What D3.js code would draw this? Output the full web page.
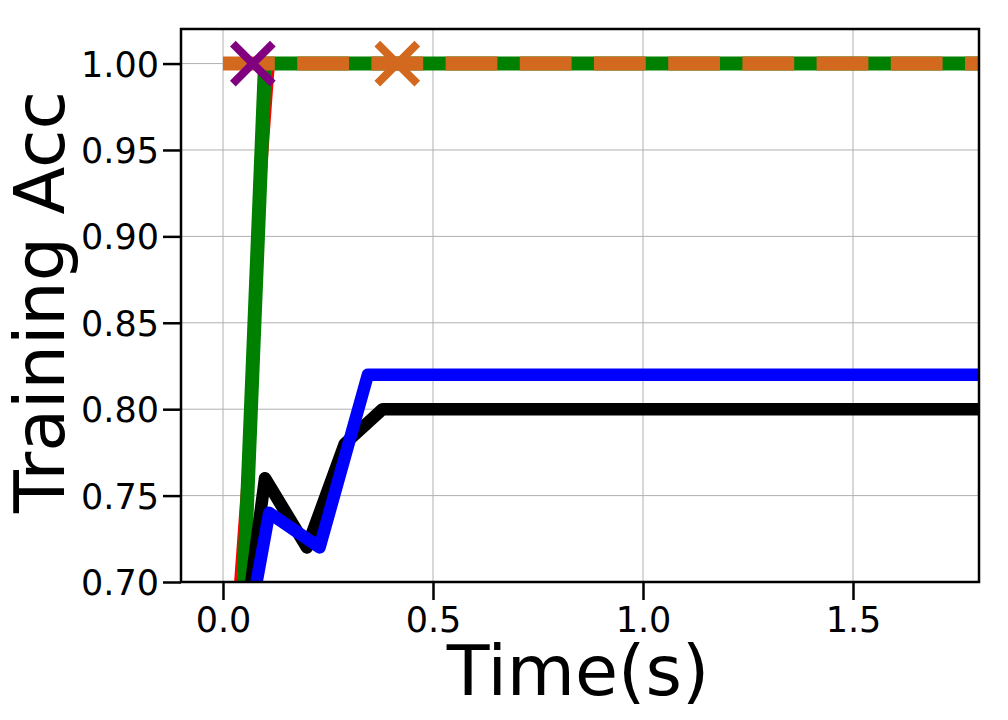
<!DOCTYPE html>
<html>
<head>
<meta charset="utf-8">
<script src="https://cdn.jsdelivr.net/npm/d3@7"></script>
<style>
  html, body { margin: 0; padding: 0; background: #fff; }
  svg { display: block; }
  text { font-family: "DejaVu Sans", sans-serif; fill: #000; }
</style>
</head>
<body>
<svg id="chart" width="1008" height="720"></svg>
<script>
// ---- data ----
const xTicks = [0.0, 0.5, 1.0, 1.5];
const yTicks = [0.70, 0.75, 0.80, 0.85, 0.90, 0.95, 1.00];

const redX   = [0.018, 0.12, 2.0];
const redY   = [0.66, 1.00, 1.00];

const greenX = [0.043, 0.10, 2.0];
const greenY = [0.66, 1.00, 1.00];

const orangeX = [0.0, 2.0];
const orangeY = [1.00, 1.00];

const blackX = [0.04, 0.10, 0.20, 0.29, 0.38, 2.0];
const blackY = [0.65, 0.76, 0.72, 0.78, 0.80, 0.80];

const blueX  = [0.05, 0.11, 0.23, 0.345, 2.0];
const blueY  = [0.66, 0.74, 0.72, 0.82, 0.82];

const purpleMarkX = [0.071];
const purpleMarkY = [1.00];
const orangeMarkX = [0.415];
const orangeMarkY = [1.00];

// ---- layout ----
const W = 1008, H = 720;
const margin = { left: 181, top: 29, right: 1008 - 979, bottom: 720 - 582 };
const iw = W - margin.left - margin.right;
const ih = H - margin.top - margin.bottom;

const svg = d3.select("#chart");
const x = d3.scaleLinear().domain([-0.1, 1.8]).range([0, iw]);
const y = d3.scaleLinear().domain([0.70, 1.02]).range([ih, 0]);

const g = svg.append("g").attr("transform", `translate(${margin.left},${margin.top})`);

g.append("defs").append("clipPath").attr("id", "clip")
  .append("rect").attr("x", 0).attr("y", 0).attr("width", iw).attr("height", ih);

// grid
const grid = g.append("g");
grid.selectAll("line.vx").data(xTicks).enter().append("line")
  .attr("x1", d => x(d)).attr("x2", d => x(d)).attr("y1", 0).attr("y2", ih)
  .attr("stroke", "#b0b0b0").attr("stroke-width", 1);
grid.selectAll("line.hy").data(yTicks).enter().append("line")
  .attr("y1", d => y(d)).attr("y2", d => y(d)).attr("x1", 0).attr("x2", iw)
  .attr("stroke", "#b0b0b0").attr("stroke-width", 1);

const zip = (xs, ys) => xs.map((v, i) => [v, ys[i]]);
const line = d3.line().x(d => x(d[0])).y(d => y(d[1]));

const plot = g.append("g").attr("clip-path", "url(#clip)");

function marker(xs, ys, color) {
  const pts = zip(xs, ys);
  const d = 20;
  const m = g.append("g");
  pts.forEach(p => {
    const cx = x(p[0]), cy = y(p[1]);
    m.append("path")
      .attr("d", `M${cx - d},${cy - d}L${cx + d},${cy + d}M${cx - d},${cy + d}L${cx + d},${cy - d}`)
      .attr("stroke", color).attr("stroke-width", 8).attr("stroke-linecap", "butt")
      .attr("fill", "none");
  });
}

marker(purpleMarkX, purpleMarkY, "#800080");

plot.append("path").datum(zip(redX, redY)).attr("d", line)
  .attr("fill", "none").attr("stroke", "#ff0000").attr("stroke-width", 3)
  .attr("stroke-linejoin", "round");

plot.append("path").datum(zip(greenX, greenY)).attr("d", line)
  .attr("fill", "none").attr("stroke", "#008000").attr("stroke-width", 14)
  .attr("stroke-linejoin", "round");

plot.append("path").datum(zip(orangeX, orangeY)).attr("d", line)
  .attr("fill", "none").attr("stroke", "#d2691e").attr("stroke-width", 14)
  .attr("stroke-dasharray", "51.8,22.4").attr("stroke-linecap", "butt");

plot.append("path").datum(zip(blackX, blackY)).attr("d", line)
  .attr("fill", "none").attr("stroke", "#000000").attr("stroke-width", 12.5)
  .attr("stroke-linejoin", "round");

plot.append("path").datum(zip(blueX, blueY)).attr("d", line)
  .attr("fill", "none").attr("stroke", "#0000ff").attr("stroke-width", 12.5)
  .attr("stroke-linejoin", "round");

marker(orangeMarkX, orangeMarkY, "#d2691e");

// frame
g.append("rect").attr("x", 0).attr("y", 0).attr("width", iw).attr("height", ih)
  .attr("fill", "none").attr("stroke", "#000").attr("stroke-width", 2.5);

// axes
const xAxis = g.append("g").attr("transform", `translate(0,${ih})`)
  .call(d3.axisBottom(x).tickValues(xTicks).tickFormat(d3.format(".1f")).tickSize(18).tickSizeOuter(0));
const yAxis = g.append("g")
  .call(d3.axisLeft(y).tickValues(yTicks).tickFormat(d3.format(".2f")).tickSize(18).tickSizeOuter(0));

[xAxis, yAxis].forEach(a => {
  a.select(".domain").remove();
  a.selectAll(".tick line").attr("stroke", "#000").attr("stroke-width", 2.5);
  a.selectAll(".tick text").attr("font-family", "DejaVu Sans").attr("font-size", 35).attr("fill", "#000");
});
xAxis.selectAll(".tick text").attr("y", 50).attr("dy", "0");
yAxis.selectAll(".tick text").attr("x", -22).attr("dy", "0.36em");

// labels
svg.append("text").attr("x", 578).attr("y", 695).attr("text-anchor", "middle")
  .attr("font-size", 70).text("Time(s)");

svg.append("text")
  .attr("transform", "translate(63.5,302) rotate(-90)")
  .attr("text-anchor", "middle").attr("font-size", 70).text("Training Acc");
</script>
</body>
</html>
